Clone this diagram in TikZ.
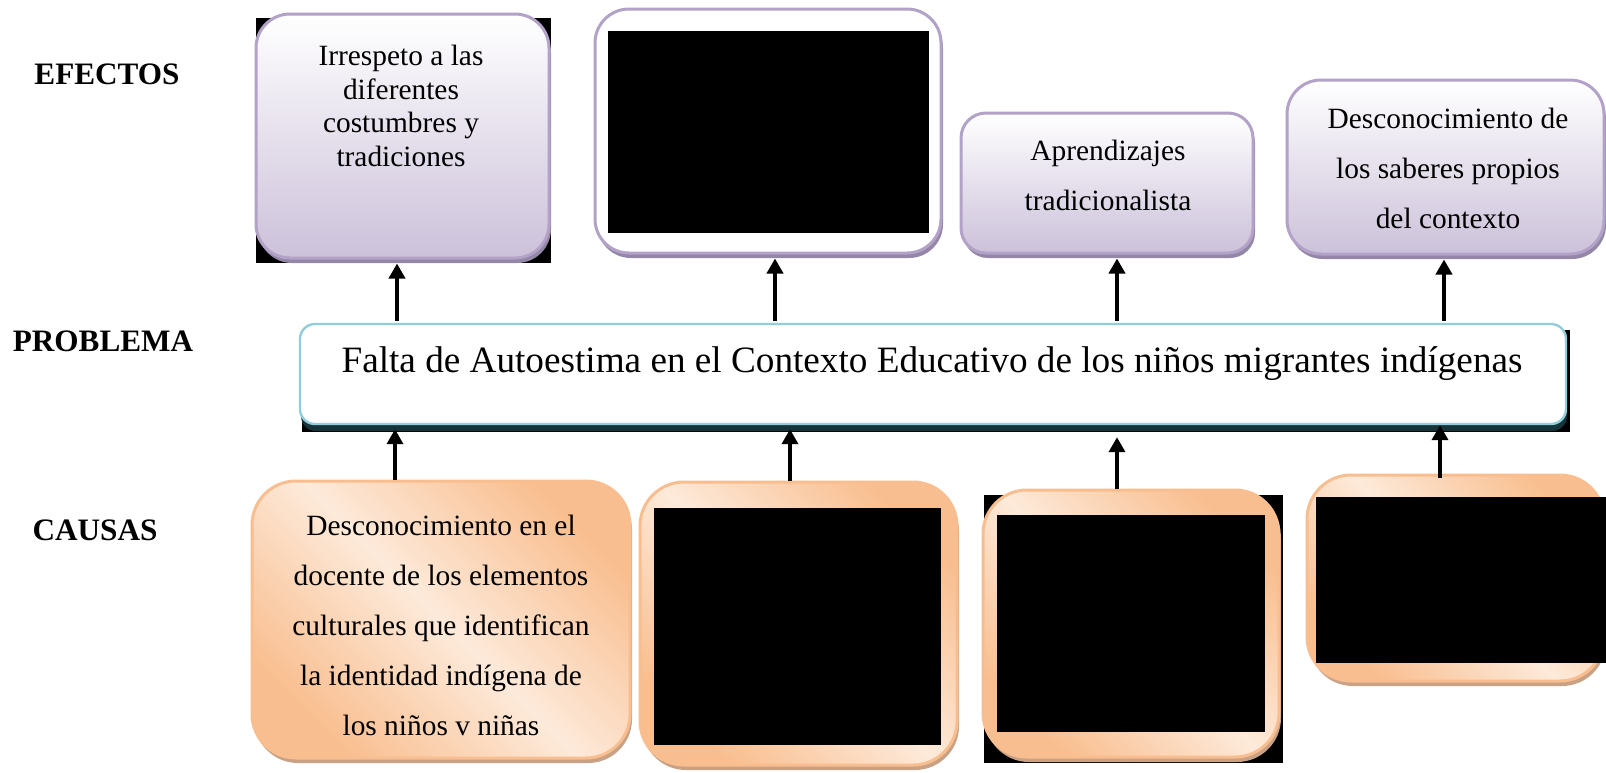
\documentclass[tikz,border=0pt]{standalone}
\usepackage{fontspec}
\setmainfont{Liberation Serif}
\usetikzlibrary{shadows,arrows.meta}
\definecolor{lavB}{HTML}{B3A2C7}
\definecolor{lavF}{HTML}{CCC1DA}
\definecolor{lavS}{HTML}{9486A6}
\definecolor{peachD}{HTML}{F9BE8F}
\definecolor{peachL}{HTML}{FDEADA}
\definecolor{peachS}{HTML}{C9A184}
\definecolor{blueB}{HTML}{92CDDC}
\definecolor{blueS}{HTML}{17333A}
\tikzset{
  ebox/.style={draw=lavB, line width=1.5pt, rounded corners=17pt, top color=white, bottom color=lavF,
    drop shadow={shadow xshift=1pt, shadow yshift=-2.5pt, fill=lavS, opacity=1}, inner sep=0pt},
  ewhite/.style={ebox, fill=white, top color=white, bottom color=white},
  cbox/.style={draw=peachD, line width=1.5pt, rounded corners=22pt, top color=peachD, bottom color=peachD,
    middle color=peachL, shading angle=-45,
    drop shadow={shadow xshift=1pt, shadow yshift=-2.5pt, fill=peachS, opacity=1}, inner sep=0pt},
  pbox/.style={draw=blueB, line width=1.2pt, rounded corners=7.5pt, fill=white,
    drop shadow={shadow xshift=0.5pt, shadow yshift=-3.5pt, fill=blueS, opacity=1}, inner sep=0pt},
  btxt/.style={align=center, font=\fontsize{14.7}{25}\selectfont, inner sep=0pt},
  lbl/.style={font=\bfseries\fontsize{15.6}{18}\selectfont, inner sep=0pt},
  redact/.style={fill=black},
  arr/.style={line width=2pt, -{Triangle[width=8pt,length=7.5pt]}},
}
\begin{document}
\begin{tikzpicture}[x=0.5pt,y=-0.5pt]
\useasboundingbox (0,0) rectangle (1606,772);
% labels
\node[lbl] (lef) at (107,74) {EFECTOS};
\node[lbl] (lpr) at (103,341) {PROBLEMA};
\node[lbl] (lca) at (95,530) {CAUSAS};
% black backdrops
\fill (256,18) rectangle (551,263);
\fill (302,330) rectangle (1570,432);
\fill (984,495) rectangle (1283,763);
% effects
\node[ebox, minimum width=146.5pt, minimum height=122pt] (e1) at (402.5,136) {};
\node[btxt, font=\fontsize{14.7}{16.8}\selectfont] (e1t) at (401,106) {Irrespeto a las\\diferentes\\costumbres y\\tradiciones};
\node[ewhite, minimum width=173pt, minimum height=122pt] (e2) at (768,131) {};
\fill[redact] (608,31) rectangle (929,233);
\node[ebox, rounded corners=12.5pt, minimum width=146pt, minimum height=70pt] (e3) at (1107,183) {};
\node[btxt] (e3t) at (1108,175) {Aprendizajes\\tradicionalista};
\node[ebox, minimum width=158.5pt, minimum height=87pt] (e4) at (1445.5,167) {};
\node[btxt] (e4t) at (1448,168) {Desconocimiento de\\los saberes propios\\del contexto};
% problem
\node[pbox, minimum width=633pt, minimum height=50pt] (prob) at (933,374) {};
\node[inner sep=0pt, font=\fontsize{18.6}{22}\selectfont] (probt) at (932,364) {Falta de Autoestima en el Contexto Educativo de los niños migrantes indígenas};
% causes
\node[cbox, minimum width=189pt, minimum height=138.5pt] (c1) at (441,619.5) {};
\node[btxt] (c1t) at (441,625.5) {Desconocimiento en el\\docente de los elementos\\culturales que identifican\\la identidad indígena de\\los niños v niñas};
\node[cbox, minimum width=158.5pt, minimum height=141.5pt] (c2) at (798.5,623.5) {};
\fill[redact] (654,508) rectangle (941,745);
\node[cbox, minimum width=148pt, minimum height=133.5pt] (c3) at (1131,623.5) {};
\fill[redact] (997,515) rectangle (1265,732);
\node[cbox, minimum width=148.5pt, minimum height=103pt] (c4) at (1455.5,578) {};
\fill[redact] (1316,497) rectangle (1606,663);
% arrow x positions
\coordinate (ea1) at (397,0);
\coordinate (ea2) at (775,0);
\coordinate (ea3) at (1117,0);
\coordinate (ea4) at (1444,0);
\coordinate (ca1) at (395,0);
\coordinate (ca2) at (790,0);
\coordinate (ca3) at (1117,0);
\coordinate (ca4) at (1440,0);
\draw[arr] ([yshift=1pt]prob.north -| ea1) -- ([yshift=-2pt]e1.south -| ea1);
\draw[arr] ([yshift=1pt]prob.north -| ea2) -- ([yshift=-2pt]e2.south -| ea2);
\draw[arr] ([yshift=1pt]prob.north -| ea3) -- ([yshift=-2pt]e3.south -| ea3);
\draw[arr] ([yshift=1pt]prob.north -| ea4) -- ([yshift=-2pt]e4.south -| ea4);
\draw[arr] (c1.north -| ca1) -- ([yshift=-2pt]prob.south -| ca1);
\draw[arr] (c2.north -| ca2) -- ([yshift=-2pt]prob.south -| ca2);
\draw[arr] (c3.north -| ca3) -- ([yshift=-6pt]prob.south -| ca3);
\draw[arr] ([yshift=-2pt]c4.north -| ca4) -- (prob.south -| ca4);
\end{tikzpicture}
\end{document}
